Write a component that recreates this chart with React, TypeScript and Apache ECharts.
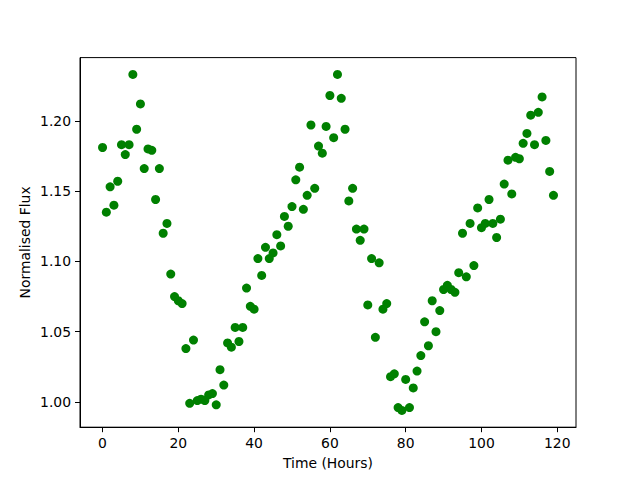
import React, { useEffect, useRef } from "react";
import * as echarts from "echarts";

const hours: number[] = [
  0, 1, 2, 3, 4, 5, 6, 7, 8, 9, 10, 11, 12, 13, 14, 15, 16, 17, 18, 19,
  20, 21, 22, 23, 24, 25, 26, 27, 28, 29, 30, 31, 32, 33, 34, 35, 36, 37, 38, 39,
  40, 41, 42, 43, 44, 45, 46, 47, 48, 49, 50, 51, 52, 53, 54, 55, 56, 57, 58, 59,
  60, 61, 62, 63, 64, 65, 66, 67, 68, 69, 70, 71, 72, 73, 74, 75, 76, 77, 78, 79,
  80, 81, 82, 83, 84, 85, 86, 87, 88, 89, 90, 91, 92, 93, 94, 95, 96, 97, 98, 99,
  100, 101, 102, 103, 104, 105, 106, 107, 108, 109, 110, 111, 112, 113, 114, 115, 116, 117, 118, 119,
];

const flux: number[] = [
  1.181, 1.135, 1.153, 1.14, 1.157, 1.183, 1.176, 1.183, 1.233, 1.194,
  1.212, 1.166, 1.18, 1.179, 1.144, 1.166, 1.12, 1.127, 1.091, 1.075,
  1.072, 1.07, 1.038, 0.999, 1.044, 1.001, 1.002, 1.001, 1.005, 1.006,
  0.998, 1.023, 1.012, 1.042, 1.039, 1.053, 1.043, 1.053, 1.081, 1.068,
  1.066, 1.102, 1.09, 1.11, 1.102, 1.106, 1.119, 1.111, 1.132, 1.125,
  1.139, 1.158, 1.167, 1.137, 1.147, 1.197, 1.152, 1.182, 1.177, 1.196,
  1.218, 1.188, 1.233, 1.216, 1.194, 1.143, 1.152, 1.123, 1.115, 1.123,
  1.069, 1.102, 1.046, 1.099, 1.066, 1.07, 1.018, 1.02, 0.996, 0.994,
  1.016, 0.996, 1.01, 1.022, 1.033, 1.057, 1.04, 1.072, 1.05, 1.065,
  1.08, 1.083, 1.08, 1.078, 1.092, 1.12, 1.089, 1.127, 1.097, 1.138,
  1.124, 1.127, 1.144, 1.127, 1.117, 1.13, 1.155, 1.172, 1.148, 1.174,
  1.173, 1.184, 1.191, 1.204, 1.183, 1.206, 1.217, 1.186, 1.164, 1.147,
];

const xTicks: number[] = [0, 20, 40, 60, 80, 100, 120];
const yTicks: number[] = [1.0, 1.05, 1.1, 1.15, 1.2];

const xLabel = "Time (Hours)";
const yLabel = "Normalised Flux";

export default function App() {
  const ref = useRef<HTMLDivElement>(null);
  useEffect(() => {
    if (!ref.current) return;
    const chart = echarts.init(ref.current, undefined, { renderer: "svg" });
    const xMinD = Math.min(...hours);
    const xMaxD = Math.max(...hours);
    const yMinD = Math.min(...flux);
    const yMaxD = Math.max(...flux);
    const xPad = (xMaxD - xMinD) * 0.05;
    const yPad = (yMaxD - yMinD) * 0.05;
    const font = "DejaVu Sans";
    const fs = 13.9;
    chart.setOption({
      animation: false,
      backgroundColor: "#ffffff",
      grid: {
        left: 80,
        right: 64,
        top: 57.6,
        bottom: 52.8,
        show: true,
        borderColor: "#000000",
        borderWidth: 1,
        containLabel: false,
      },
      xAxis: {
        type: "value",
        min: xMinD - xPad,
        max: xMaxD + xPad,
        name: xLabel,
        nameLocation: "middle",
        nameGap: 29,
        nameMoveOverlap: false,
        nameTextStyle: { fontFamily: font, fontSize: fs, color: "#000" },
        axisLine: { show: true, onZero: false, lineStyle: { color: "#000", width: 1 } },
        axisTick: { show: true, length: 5, inside: false, customValues: xTicks, lineStyle: { color: "#000" } },
        axisLabel: {
          show: true,
          margin: 9,
          customValues: xTicks,
          fontFamily: font,
          fontSize: fs,
          color: "#000",
          formatter: (v: number) => String(Math.round(v)),
        },
        splitLine: { show: false },
      },
      yAxis: {
        type: "value",
        min: yMinD - yPad,
        max: yMaxD + yPad,
        name: yLabel,
        nameLocation: "middle",
        nameGap: 48,
        nameRotate: 90,
        nameMoveOverlap: false,
        nameTextStyle: { fontFamily: font, fontSize: fs, color: "#000" },
        axisLine: { show: true, onZero: false, lineStyle: { color: "#000", width: 1 } },
        axisTick: { show: true, length: 5, inside: false, customValues: yTicks, lineStyle: { color: "#000" } },
        axisLabel: {
          show: true,
          margin: 9,
          customValues: yTicks,
          fontFamily: font,
          fontSize: fs,
          color: "#000",
          formatter: (v: number) => v.toFixed(2),
        },
        splitLine: { show: false },
      },
      series: [
        {
          type: "scatter",
          data: hours.map((h, i) => [h, flux[i]]),
          symbol: "circle",
          symbolSize: 9,
          itemStyle: { color: "#008000", opacity: 1 },
        },
      ],
    });
    return () => chart.dispose();
  }, []);
  return <div ref={ref} style={{ width: 640, height: 480, position: "absolute", left: 0, top: 0 }} />;
}
